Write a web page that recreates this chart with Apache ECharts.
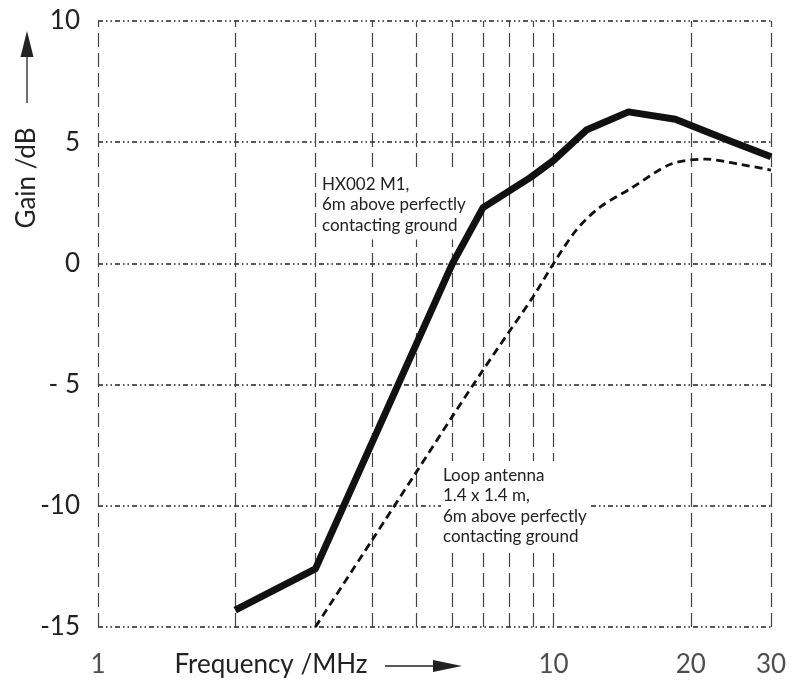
<!DOCTYPE html>
<html><head><meta charset="utf-8">
<script src="https://cdn.jsdelivr.net/npm/echarts@6/dist/echarts.min.js"></script>
<style>html,body{margin:0;padding:0;background:#fff}#c{width:796px;height:685px}</style>
</head><body><div id="c"></div>
<script>
// Frequency (MHz) tick labels and vertical grid positions
const freqTickLabels = [1, 10, 20, 30];
const gridFreqs = [1, 2, 3, 4, 5, 6, 7, 8, 9, 10, 20, 30];
// HX002 M1 (solid thick)
const hxFreq = [2, 3, 6, 7, 8.9, 10, 11.8, 14.6, 18.5, 24, 30];
const hxGain = [-14.3, -12.6, 0, 2.3, 3.55, 4.25, 5.5, 6.25, 5.95, 5.1, 4.4];
// Loop antenna (dashed)
const loopFreq = [3, 4, 5, 6, 7, 8, 9, 10, 11.2, 12.6, 14.8, 18.1, 21.6, 25.4, 30];
const loopGain = [-15, -11.4, -8.6, -6.3, -4.4, -2.8, -1.4, 0, 1.36, 2.3, 3.1, 4.1, 4.3, 4.1, 3.85];
// Gain tick labels
const gainTicks = [-15, -10, -5, 0, 5, 10];
const gainTickText = {'-15': '-15', '-10': '-10', '-5': '- 5', '0': '0', '5': '5', '10': '10'};

const FONT = 'Lato';
const TXT = '#222';

const chart = echarts.init(document.getElementById('c'), null, {renderer: 'canvas'});
const option = {
  animation: false,
  backgroundColor: '#fff',
  grid: {left: 98, right: 25, top: 21, bottom: 58, containLabel: false},
  xAxis: {
    type: 'log', logBase: 10, min: 1, max: 30,
    axisLine: {show: false}, axisTick: {show: false},
    axisLabel: {show: false}, splitLine: {show: false}, minorSplitLine: {show: false}
  },
  yAxis: {
    type: 'value', min: -15, max: 10, interval: 5,
    axisLine: {show: false}, axisTick: {show: false},
    axisLabel: {
      margin: 18, fontFamily: FONT, fontSize: 26, color: TXT,
      formatter: v => gainTickText[String(v)]
    },
    splitLine: {show: true, lineStyle: {color: '#222', width: 1.5, type: [5, 3, 1.5, 3, 1.5, 3]}}
  },
  series: [
    {
      name: 'grid', type: 'line', data: [], silent: true, z: 1,
      markLine: {
        z: 1, silent: true, symbol: 'none', label: {show: false},
        lineStyle: {color: '#444', width: 1.2, type: [14, 6]},
        data: gridFreqs.map(f => ({xAxis: f}))
      }
    },
    {
      name: 'ticks', type: 'scatter', symbolSize: 0, silent: true, z: 1,
      data: freqTickLabels.map(f => [f, -15]),
      label: {
        show: true, position: 'bottom', distance: 25,
        fontFamily: FONT, fontSize: 26, color: TXT,
        formatter: p => String(p.value[0])
      }
    },
    {
      name: 'Loop antenna', type: 'line', symbol: 'none', smooth: 0.3, z: 5,
      data: loopFreq.map((f, i) => [f, loopGain[i]]),
      lineStyle: {color: '#111', width: 2.8, type: [8, 5]}
    },
    {
      name: 'HX002 M1', type: 'line', symbol: 'none', z: 6,
      data: hxFreq.map((f, i) => [f, hxGain[i]]),
      lineStyle: {color: '#111', width: 7, join: 'round'}
    }
  ],
  graphic: [
    {type: 'text', left: 320, top: 170, z: 3, style: {
      text: 'HX002 M1,\n6m above perfectly\ncontacting ground', fontFamily: FONT, fontSize: 17,
      lineHeight: 20.5, fill: TXT, backgroundColor: '#fff', padding: [4, 2, 4, 2]}},
    {type: 'text', left: 441, top: 461, z: 3, style: {
      text: 'Loop antenna\n1.4 x 1.4 m,\n6m above perfectly\ncontacting ground', fontFamily: FONT, fontSize: 17,
      lineHeight: 20.5, fill: TXT, backgroundColor: '#fff', padding: [4, 4, 4, 2]}},
    {type: 'text', x: 27, y: 178, rotation: Math.PI / 2, z: 10, style: {
      text: 'Gain /dB', fontFamily: FONT, fontSize: 26, fill: TXT, align: 'center', verticalAlign: 'middle'}},
    {type: 'line', z: 10, shape: {x1: 27, y1: 103, x2: 27, y2: 55}, style: {stroke: TXT, lineWidth: 1.3}},
    {type: 'polygon', z: 10, shape: {points: [[27, 31], [20.5, 57], [33.5, 57]]}, style: {fill: TXT}},
    {type: 'text', x: 271, y: 665, z: 10, style: {
      text: 'Frequency /MHz', fontFamily: FONT, fontSize: 26, fill: TXT, align: 'center', verticalAlign: 'middle'}},
    {type: 'line', z: 10, shape: {x1: 385, y1: 666, x2: 436, y2: 666}, style: {stroke: TXT, lineWidth: 1.3}},
    {type: 'polygon', z: 10, shape: {points: [[462, 666], [433, 660], [433, 672]]}, style: {fill: TXT}}
  ]
};
chart.setOption(option);
</script>
</body></html>
